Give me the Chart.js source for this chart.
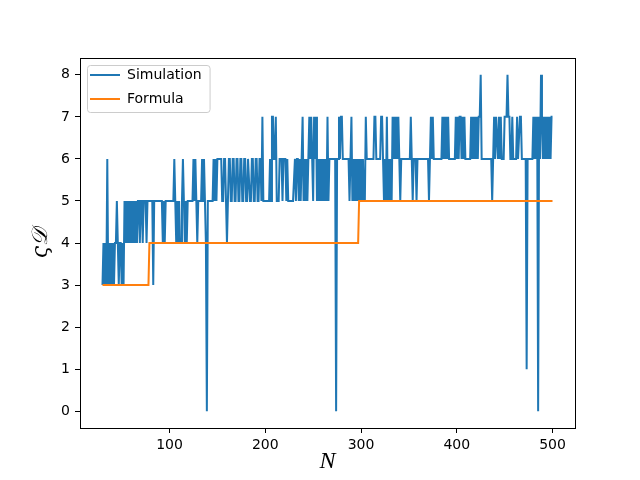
<!DOCTYPE html>
<html>
<head>
<meta charset="utf-8">
<script src="https://cdn.jsdelivr.net/npm/chart.js@4"></script>
<style>
  html, body { margin: 0; padding: 0; background: #fff; }
  #wrap { width: 640px; height: 480px; }
</style>
</head>
<body>
<div id="wrap"><canvas id="myChart" width="640" height="480"></canvas></div>
<script>
// simulation: one value per N, starting at N = 30
const simStart = 30;
const simD = [
  3,4,3,4,3,6,3,4,3,4,  // 30
  3,4,3,4,4,5,4,3,4,4,  // 40
  3,4,3,5,4,5,4,5,4,5,  // 50
  4,5,4,5,4,5,4,5,5,4,  // 60
  5,5,4,5,5,5,4,5,5,5,  // 70
  5,5,5,3,5,5,5,5,5,5,  // 80
  5,5,5,4,5,4,5,5,5,5,  // 90
  5,5,5,5,5,6,5,4,5,4,  // 100
  5,4,4,5,6,5,4,5,4,5,  // 110
  5,5,5,5,5,6,5,6,5,4,  // 120
  5,5,5,5,6,5,6,5,4,0,  // 130
  5,5,5,5,5,5,6,5,6,5,  // 140
  6,6,6,6,6,5,5,6,6,5,  // 150
  4,5,6,6,5,5,6,6,5,5,  // 160
  6,6,5,5,6,6,5,5,6,6,  // 170
  5,5,6,6,5,5,6,6,5,5,  // 180
  6,6,5,5,6,6,5,7,5,5,  // 190
  5,5,5,5,5,6,5,7,7,6,  // 200
  6,7,5,5,5,6,6,6,5,6,  // 210
  6,6,5,6,5,5,5,5,5,5,  // 220
  5,6,5,6,6,5,6,5,6,7,  // 230
  5,6,5,6,5,6,7,6,7,6,  // 240
  5,7,6,7,5,6,5,6,5,6,  // 250
  5,6,5,6,5,7,5,6,6,6,  // 260
  6,6,6,6,0,6,6,7,6,7,  // 270
  7,6,6,6,6,6,6,6,5,6,  // 280
  7,5,6,5,6,5,6,5,6,5,  // 290
  6,5,6,5,5,7,6,6,6,6,  // 300
  6,6,6,6,7,7,6,6,6,6,  // 310
  6,7,7,6,5,6,5,7,5,6,  // 320
  5,6,5,7,6,7,6,7,6,7,  // 330
  6,5,6,6,6,6,6,6,6,6,  // 340
  6,6,7,6,5,6,6,6,5,6,  // 350
  6,6,6,6,6,6,6,6,6,6,  // 360
  6,5,6,7,6,7,6,6,6,6,  // 370
  6,6,6,6,6,7,6,7,6,7,  // 380
  6,7,6,6,6,6,6,6,6,7,  // 390
  6,7,6,7,7,6,7,6,7,6,  // 400
  6,6,6,6,6,7,6,7,6,7,  // 410
  6,7,6,7,7,8,6,6,6,6,  // 420
  6,6,6,6,6,6,6,5,6,7,  // 430
  6,7,7,6,7,6,7,6,6,6,  // 440
  7,7,7,8,7,7,6,6,7,6,  // 450
  6,6,6,7,6,6,7,7,6,6,  // 460
  6,6,6,1,6,6,6,6,6,6,  // 470
  7,6,7,6,7,0,7,6,8,7,  // 480
  6,7,6,7,6,7,6,7,6,7,  // 490
  7                     // 500
];

// formula: step corners
const formulaN = [30, 78, 79, 297, 298, 500];
const formulaD = [3, 3, 4, 4, 5, 5];

const xTicks = [100, 200, 300, 400, 500];
const yTicks = [0, 1, 2, 3, 4, 5, 6, 7, 8];

const simPoints = simD.map((v, i) => ({x: simStart + i, y: v}));
const formulaPoints = formulaN.map((n, i) => ({x: n, y: formulaD[i]}));

// frame round the plot + legend box
const frame = {
  id: 'frame',
  afterLayout(chart) {
    // legend inside the plot, top left
    const lg = chart.legend;
    if (lg) {
      lg.top = chart.chartArea.top;
      lg.bottom = chart.chartArea.bottom;
    }
  },
  beforeDraw(chart) {
    const lg = chart.legend;
    if (!lg || !lg.legendHitBoxes || !lg.legendHitBoxes.length) return;
    const hb = lg.legendHitBoxes;
    let l = Infinity, t = Infinity, r = -Infinity, b = -Infinity;
    hb.forEach(h => {
      l = Math.min(l, h.left); t = Math.min(t, h.top);
      r = Math.max(r, h.left + h.width); b = Math.max(b, h.top + h.height);
    });
    l -= 3; t -= 3; r += 8; b += 6;
    const ctx = chart.ctx;
    ctx.save();
    ctx.beginPath();
    ctx.roundRect(l + 0.5, t + 0.5, r - l, b - t, 3);
    ctx.fillStyle = 'rgba(255,255,255,0.8)';
    ctx.fill();
    ctx.strokeStyle = '#cccccc';
    ctx.lineWidth = 1;
    ctx.stroke();
    ctx.restore();
  },
  afterDraw(chart) {
    const a = chart.chartArea;
    const ctx = chart.ctx;
    ctx.save();
    ctx.strokeStyle = '#000';
    ctx.lineWidth = 1;
    ctx.strokeRect(Math.round(a.left) + 0.5, Math.round(a.top) + 0.5,
      Math.round(a.right - a.left), Math.round(a.bottom - a.top));
    ctx.restore();
  }
};

new Chart("myChart", {
  type: "line",
  data: {
    datasets: [{
      label: "Simulation",
      data: simPoints,
      borderColor: "#1f77b4",
      backgroundColor: "#1f77b4",
      borderWidth: 2,
      pointRadius: 0,
      tension: 0,
      order: 1
    }, {
      label: "Formula",
      data: formulaPoints,
      borderColor: "#ff7f0e",
      backgroundColor: "#ff7f0e",
      borderWidth: 2,
      pointRadius: 0,
      tension: 0,
      order: 0
    }]
  },
  options: {
    responsive: false,
    animation: false,
    devicePixelRatio: 1,
    layout: { padding: { left: 0, right: 65, top: 58, bottom: 0 } },
    plugins: {
      tooltip: { enabled: false },
      legend: {
        position: 'chartArea',
        align: 'start',
        labels: {
          boxWidth: 30,
          boxHeight: 0,
          padding: 10,
          color: '#000',
          font: { family: 'DejaVu Sans', size: 14 },
          sort: (a, b) => a.datasetIndex - b.datasetIndex
        }
      }
    },
    scales: {
      x: {
        type: 'linear',
        min: 6.5,
        max: 523.5,
        afterFit(s) { s.height = 52; },
        afterBuildTicks(s) { s.ticks = xTicks.map(v => ({value: v})); },
        border: { display: false },
        grid: { drawOnChartArea: false, drawTicks: true, tickLength: 5, color: '#000' },
        ticks: { color: '#000', padding: 4, maxRotation: 0, font: { family: 'DejaVu Sans', size: 14 } },
        title: {
          display: true, text: 'N', color: '#000',
          font: { family: 'Liberation Serif', style: 'italic', size: 24 },
          padding: { top: 0, bottom: 4 }
        }
      },
      y: {
        min: -0.4,
        max: 8.4,
        afterFit(s) { s.width = 80; },
        afterBuildTicks(s) { s.ticks = yTicks.map(v => ({value: v})); },
        border: { display: false },
        grid: { drawOnChartArea: false, drawTicks: true, tickLength: 5, color: '#000' },
        ticks: { color: '#000', padding: 5, font: { family: 'DejaVu Sans', size: 14 } },
        title: {
          display: true, text: 'ς𝒟', color: '#000',
          font: { family: 'DejaVu Serif', style: 'italic', size: 22 },
          padding: { top: 28, bottom: 0 }
        }
      }
    }
  },
  plugins: [frame]
});
</script>
</body>
</html>
